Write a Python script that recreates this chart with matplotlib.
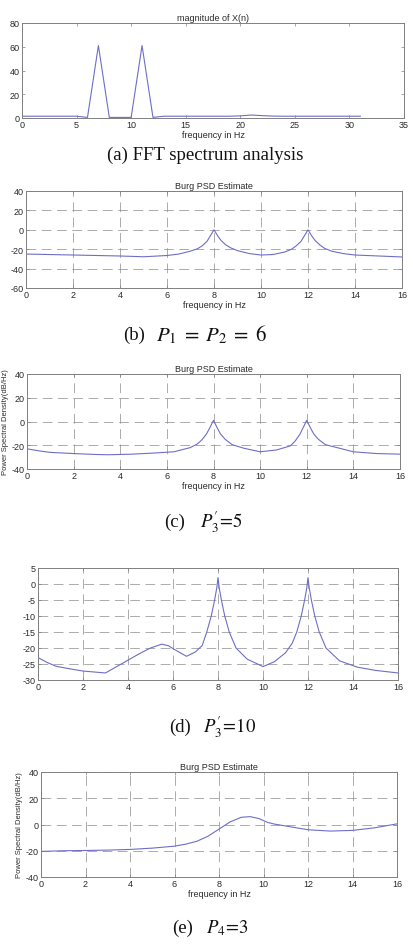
import matplotlib
matplotlib.use("Agg")
import matplotlib.pyplot as plt

plt.rcParams["font.family"] = ["Liberation Sans", "DejaVu Sans"]
plt.rcParams["mathtext.fontset"] = "stix"
plt.rcParams["axes.unicode_minus"] = False

LINE = "#6e6ec8"
FRAME = "#808080"
GRID = "#8a8a8a"
TEXT = "#2a2a2a"

# (a) FFT magnitude, one point per Hz
fft_freq = list(range(0, 32))
fft_mag = [1.5, 1.5, 1.5, 1.5, 1.5, 1.5, 0.5, 61, 0.5, 0.5, 0.5, 61, 0.5, 1.5,
           1.5, 1.5, 1.5, 1.5, 1.5, 1.5, 1.8, 2.5, 2.0, 1.6, 1.5, 1.5, 1.5, 1.5,
           1.5, 1.5, 1.5, 1.5]

# (b) Burg PSD, P1 = P2 = 6
b_freq = [0, 1, 2, 3, 4, 5, 6, 6.5, 7, 7.3, 7.5, 7.7, 7.85, 8.0, 8.15, 8.3,
          8.5, 8.7, 9, 9.5, 10, 10.5, 11, 11.3, 11.5, 11.7, 11.85, 12.0, 12.15,
          12.3, 12.5, 12.7, 13, 13.5, 14, 15, 16]
b_psd = [-25, -25.5, -26, -26.5, -27, -27.8, -26.5, -25, -22, -19.5, -16.5,
         -12, -6, 0, -6, -11, -15.5, -18.5, -21.5, -24.5, -26, -25.5, -23, -20,
         -16.5, -12, -6, 0, -6, -11, -15.5, -19, -22, -24.5, -26, -27, -28]

# (c) Burg PSD, P3' = 5
c_freq = [0, 0.3, 0.6, 1, 2, 3, 3.5, 4.5, 5.5, 6.3, 7, 7.3, 7.5, 7.7, 7.85,
          8.0, 8.15, 8.3, 8.5, 8.8, 9.3, 10, 10.7, 11.3, 11.5, 11.7, 11.85,
          12.0, 12.15, 12.3, 12.5, 12.8, 13.5, 14, 15, 16]
c_psd = [-23, -24, -25, -26, -27, -27.8, -28, -27.5, -26.5, -25.5, -22, -19,
         -15.5, -10.5, -5, 1, -5, -10.5, -15, -19.5, -22.5, -25.5, -24, -20.5,
         -16.5, -11, -5, 1, -5, -10.5, -15, -19.5, -23, -25.5, -27, -27.5]

# (d) Burg PSD, P3' = 10
d_freq = [0, 0.4, 0.8, 1.4, 2, 2.5, 3, 3.5, 4, 4.5, 5, 5.5, 5.8, 6.1, 6.6, 7,
          7.3, 7.5, 7.7, 7.85, 7.95, 8.0, 8.05, 8.15, 8.3, 8.5, 8.8, 9.3, 10,
          10.5, 11, 11.3, 11.5, 11.7, 11.85, 11.95, 12.0, 12.05, 12.15, 12.3,
          12.5, 12.8, 13.4, 14.2, 15, 16]
d_psd = [-23, -24.5, -25.7, -26.5, -27.2, -27.5, -27.8, -25.8, -23.8, -21.8,
         -20, -18.8, -19.3, -20.6, -22.6, -21.2, -19.2, -15, -10, -5, -1, 2, -1,
         -5, -10, -15, -20, -23.5, -25.8, -24.3, -21.5, -18.5, -15, -10, -5, -1,
         2, -1, -5, -10, -15, -20, -24, -26, -27, -27.8]

# (e) Burg PSD, P4 = 3
e_freq = [0, 1, 2, 3, 4, 5, 6, 6.5, 7, 7.5, 8, 8.5, 9, 9.4, 9.8, 10.2, 10.5,
          11.3, 12, 13, 14, 15, 16]
e_psd = [-20.5, -20, -19.8, -19.5, -19, -18, -16.5, -15, -12.8, -9, -3.5, 2,
         5.5, 6, 4.5, 1.5, 0.3, -2, -4, -5, -4.5, -2.5, 0.5]


def rect(left, right, top, bottom):
    return [left / 413, 1 - bottom / 945, (right - left) / 413, (bottom - top) / 945]


def style(ax, grid=True):
    for sp in ax.spines.values():
        sp.set_color(FRAME)
        sp.set_linewidth(0.7)
    ax.tick_params(labelsize=6.5, colors=FRAME, labelcolor=TEXT, length=2,
                   width=0.5, direction="in", pad=1.5, top=True, right=True)
    if grid:
        ax.grid(True, color=GRID, linestyle=(0, (14, 8)), linewidth=0.5)


fig = plt.figure(figsize=(4.13, 9.45), dpi=100)

ax = fig.add_axes(rect(22, 404, 24, 119))
ax.plot(fft_freq, fft_mag, color=LINE, linewidth=0.8)
ax.set_xlim(0, 35)
ax.set_ylim(0, 80)
ax.set_yticks([0, 20, 40, 60, 80])
style(ax, grid=False)
ax.set_title("magnitude of X(n)", fontsize=6.5, color=TEXT, pad=2)
ax.set_xlabel("frequency in Hz", fontsize=6.5, color=TEXT, labelpad=1)

panels = [
    (rect(26, 402, 192, 289), b_freq, b_psd, (-60, 40), range(-60, 41, 20), True, False),
    (rect(27, 400, 375, 470), c_freq, c_psd, (-40, 40), range(-40, 41, 20), True, True),
    (rect(38, 398, 569, 681), d_freq, d_psd, (-30, 5), range(-30, 6, 5), False, False),
    (rect(41, 397, 773, 878), e_freq, e_psd, (-40, 40), range(-40, 41, 20), True, True),
]
for box, fx, fy, ylim, yt, labels, ylab in panels:
    ax = fig.add_axes(box)
    ax.plot(fx, fy, color=LINE, linewidth=0.8)
    ax.set_xlim(0, 16)
    ax.set_ylim(*ylim)
    ax.set_xticks(range(0, 17, 2))
    ax.set_yticks(list(yt))
    style(ax)
    if labels:
        ax.set_title("Burg PSD Estimate", fontsize=6.5, color=TEXT, pad=2)
        ax.set_xlabel("frequency in Hz", fontsize=6.5, color=TEXT, labelpad=1)
    if ylab:
        ax.set_ylabel("Power Spectral Density(dB/Hz)", fontsize=5.5, color=TEXT, labelpad=2)

serif = ["Liberation Serif", "DejaVu Serif"]
fig.text(205 / 413, 1 - 155 / 945, "(a) FFT spectrum analysis", ha="center",
         va="center", fontsize=13.5, family=serif, color="#111111")

# captions (b)-(e): label part and formula part
captions = [
    (335, 123, "(b)", 156, "$P_1\\;=\\;P_2\\;=\\;6$", 15),
    (522, 164, "(c)", 200, "$P_3^{\\prime}\\!=\\!5$", 13.5),
    (727, 169, "(d)", 203, "$P_3^{\\prime}\\!=\\!10$", 13.5),
    (928, 172, "(e)", 206, "$P_4\\!=\\!3$", 13.5),
]
for y, xl, lab, xm, formula, fs in captions:
    fig.text(xl / 413, 1 - y / 945, lab, ha="left", va="center",
             fontsize=13.5, family=serif, color="#111111")
    fig.text(xm / 413, 1 - y / 945, formula, ha="left", va="center",
             fontsize=fs, family=serif, color="#111111")

fig.savefig("out.png", dpi=100)
